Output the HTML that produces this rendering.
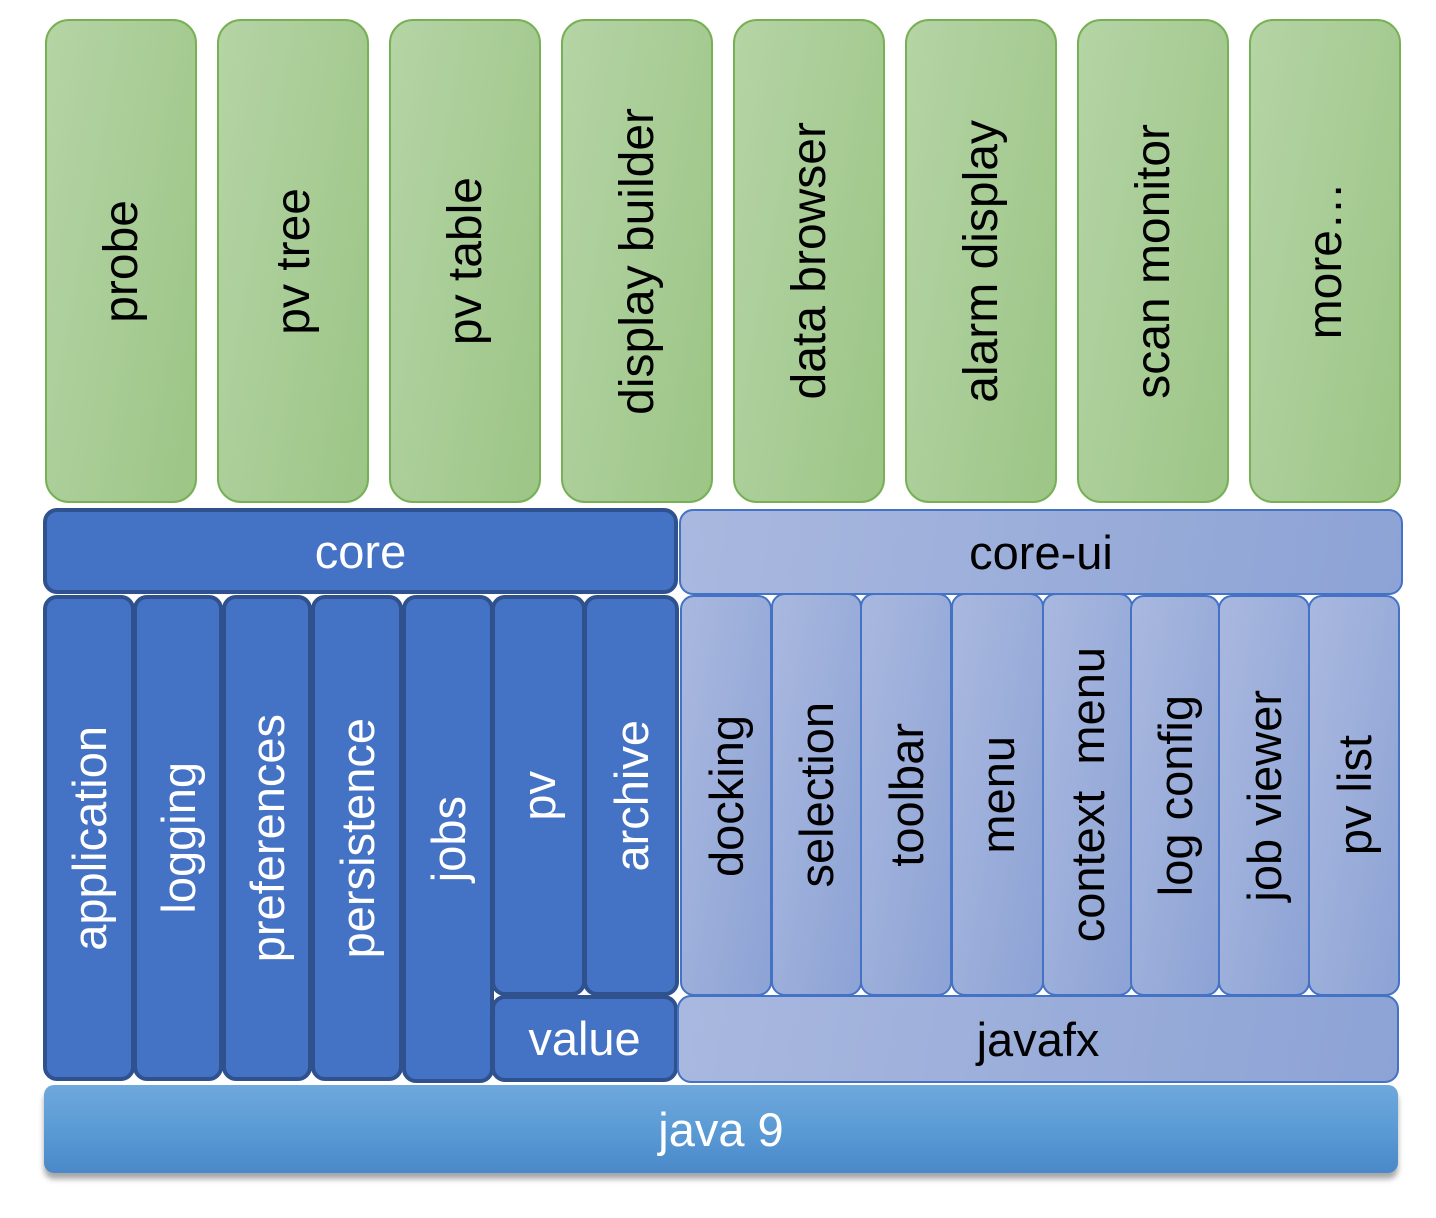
<!DOCTYPE html>
<html><head><meta charset="utf-8"><style>
body{margin:0;width:1436px;height:1218px;background:#fff;position:relative;overflow:hidden;font-family:"Liberation Sans",sans-serif}
.b{position:absolute;box-sizing:border-box;display:flex;align-items:center;justify-content:center}
.v span{writing-mode:vertical-rl;transform:rotate(180deg);white-space:pre}
.g{background:linear-gradient(100deg,#b5d4a5,#9cc586);border:2px solid #77b055;border-radius:24px;color:#000;font-size:48px}
.d{background:#4472c4;border:4px solid #2f528f;border-radius:14px;color:#fff;font-size:47px}
.l{background:linear-gradient(100deg,#a9b8df,#8da3d5);border:2px solid #4472c4;border-radius:14px;color:#000;font-size:47px}
.h{font-size:47px}
</style></head><body>
<div class="b g v" style="left:45px;top:19px;width:152px;height:484px"><span>probe</span></div>
<div class="b g v" style="left:217px;top:19px;width:152px;height:484px"><span>pv tree</span></div>
<div class="b g v" style="left:389px;top:19px;width:152px;height:484px"><span>pv table</span></div>
<div class="b g v" style="left:561px;top:19px;width:152px;height:484px"><span>display builder</span></div>
<div class="b g v" style="left:733px;top:19px;width:152px;height:484px"><span>data browser</span></div>
<div class="b g v" style="left:905px;top:19px;width:152px;height:484px"><span>alarm display</span></div>
<div class="b g v" style="left:1077px;top:19px;width:152px;height:484px"><span>scan monitor</span></div>
<div class="b g v" style="left:1249px;top:19px;width:152px;height:484px"><span>more…</span></div>

<div class="b d h" style="left:43px;top:508px;width:635px;height:86px">core</div>
<div class="b l h" style="left:679px;top:509px;width:724px;height:86px">core-ui</div>

<div class="b d v" style="left:43px;top:595px;width:92px;height:486px"><span>application</span></div>
<div class="b d v" style="left:133px;top:595px;width:90px;height:486px"><span>logging</span></div>
<div class="b d v" style="left:222px;top:595px;width:90px;height:486px"><span>preferences</span></div>
<div class="b d v" style="left:311px;top:595px;width:92px;height:486px"><span>persistence</span></div>
<div class="b d v" style="left:402px;top:595px;width:92px;height:488px"><span>jobs</span></div>
<div class="b d v" style="left:491px;top:595px;width:95px;height:401px"><span>pv</span></div>
<div class="b d v" style="left:583px;top:595px;width:96px;height:401px"><span>archive</span></div>
<div class="b d h" style="left:491px;top:995px;width:187px;height:87px">value</div>

<div class="b l v" style="left:680px;top:595px;width:92px;height:401px"><span>docking</span></div>
<div class="b l v" style="left:771px;top:593px;width:91px;height:403px"><span>selection</span></div>
<div class="b l v" style="left:860px;top:593px;width:92px;height:403px"><span>toolbar</span></div>
<div class="b l v" style="left:951px;top:593px;width:93px;height:403px"><span>menu</span></div>
<div class="b l v" style="left:1042px;top:593px;width:91px;height:403px"><span>context  menu</span></div>
<div class="b l v" style="left:1130px;top:595px;width:90px;height:401px"><span>log config</span></div>
<div class="b l v" style="left:1218px;top:595px;width:92px;height:401px"><span>job viewer</span></div>
<div class="b l v" style="left:1308px;top:595px;width:92px;height:401px"><span>pv list</span></div>
<div class="b l h" style="left:677px;top:995px;width:722px;height:88px">javafx</div>

<div class="b h" style="left:44px;top:1085px;width:1354px;height:88px;border-radius:10px;background:linear-gradient(180deg,#6fa8dc,#5b9bd5 50%,#4a88c9);color:#fff;box-shadow:0 6px 6px rgba(0,0,0,0.35)">java 9</div>
</body></html>
